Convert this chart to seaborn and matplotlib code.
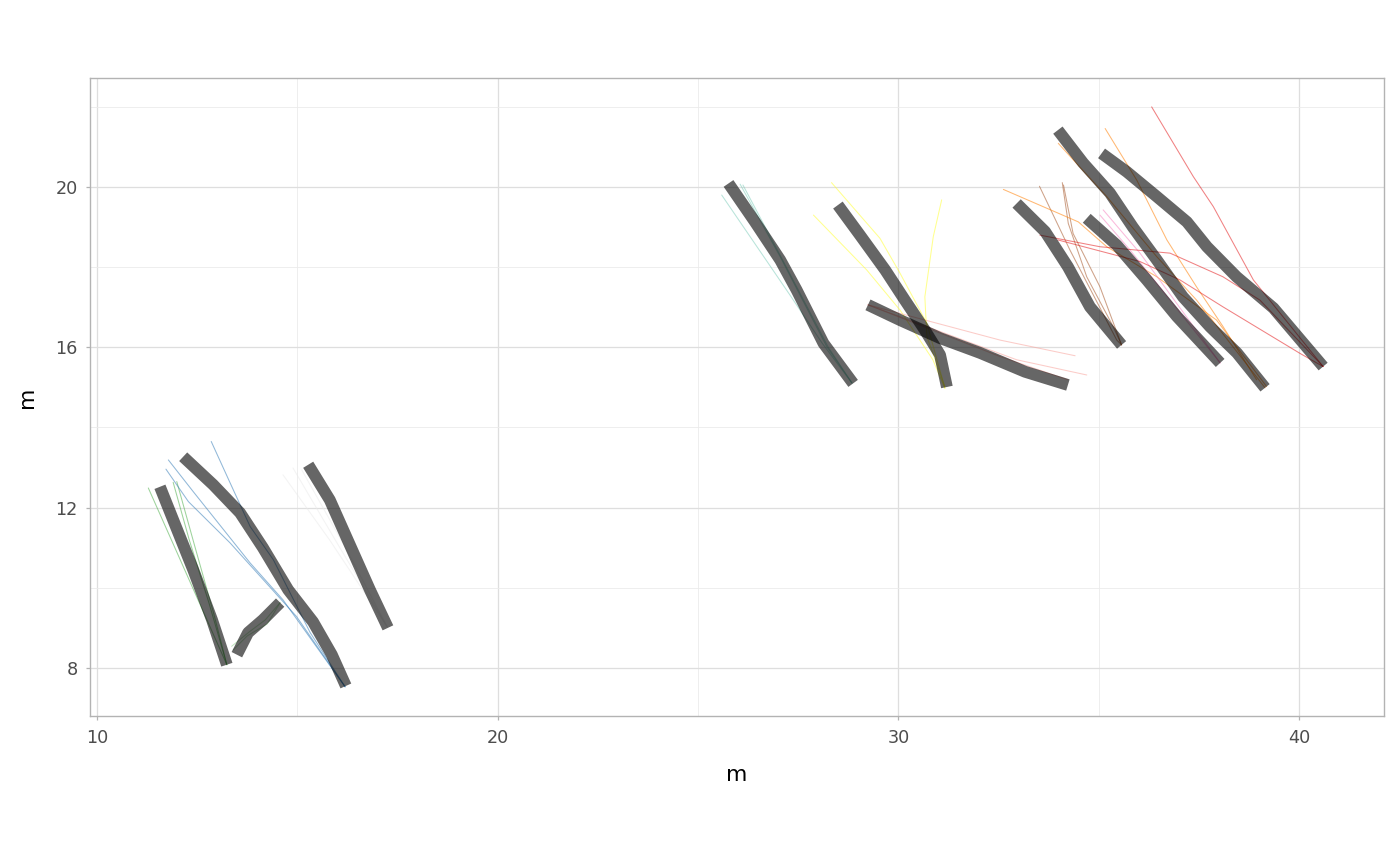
import pandas as pd
import matplotlib.pyplot as plt
import matplotlib.ticker as mticker
import seaborn as sns

# ── Thick tracks (one list per track) ────────────────────────────────────────
TRACK_X = [
    [11.57, 11.95, 12.40, 12.87, 13.24],
    [13.49, 13.77, 14.14, 14.57],
    [12.15, 12.90, 13.57, 14.14, 14.77, 15.39, 15.86, 16.21],
    [15.27, 15.81, 16.31, 16.81, 17.26],
    [25.76, 26.42, 27.05, 27.46, 28.13, 28.87],
    [28.49, 29.04, 29.67, 30.16, 30.66, 31.04, 31.21],
    [29.24, 30.04, 31.04, 32.04, 33.16, 34.23],
    [32.95, 33.66, 34.23, 34.78, 35.57],
    [33.98, 34.61, 35.28, 35.85, 36.45, 37.10, 37.78, 38.45, 39.15],
    [34.70, 35.45, 36.20, 36.95, 38.03],
    [35.07, 35.70, 36.45, 37.20, 37.70, 38.44, 39.36, 40.60],
]
TRACK_Y = [
    [12.52, 11.57, 10.45, 9.20, 8.08],
    [8.33, 8.88, 9.20, 9.63],
    [13.27, 12.57, 11.87, 11.00, 9.95, 9.15, 8.33, 7.55],
    [13.07, 12.19, 11.07, 9.95, 9.00],
    [20.09, 19.13, 18.18, 17.43, 16.10, 15.10],
    [19.55, 18.80, 17.93, 17.18, 16.43, 15.81, 15.01],
    [17.06, 16.68, 16.23, 15.86, 15.39, 15.06],
    [19.59, 18.89, 18.01, 17.01, 16.06],
    [21.42, 20.60, 19.85, 19.00, 18.18, 17.26, 16.51, 15.86, 14.99],
    [19.22, 18.55, 17.68, 16.77, 15.61],
    [20.84, 20.38, 19.76, 19.13, 18.51, 17.76, 16.98, 15.52],
]

# ── Thin candidate paths: group = index of the track they belong to ──────────
PATH_GROUP = [0, 0, 0, 1, 1, 2, 2, 2, 3, 3, 3, 4, 4, 4, 5, 5, 5,
              6, 6, 6, 7, 7, 7, 8, 8, 8, 9, 9, 10, 10, 10]
PATH_X = [
    [11.28, 13.24],
    [11.90, 12.30, 12.80, 13.24],
    [11.99, 12.45, 12.90, 13.24],
    [13.36, 13.80, 14.20, 14.57],
    [13.40, 13.75, 14.25, 14.57],
    [11.78, 12.40, 13.82, 14.64, 16.19],
    [11.72, 12.28, 13.32, 14.98, 16.19],
    [12.85, 13.32, 13.82, 14.40, 15.32, 16.19],
    [14.64, 15.80, 17.24],
    [14.89, 16.00, 17.24],
    [15.11, 16.20, 17.24],
    [25.59, 27.29, 28.10, 28.84],
    [26.05, 27.05, 28.21, 28.84],
    [26.12, 27.10, 28.25, 28.84],
    [28.33, 29.54, 30.04, 30.71, 31.16],
    [27.88, 29.21, 30.04, 30.86, 31.16],
    [31.08, 30.87, 30.66, 30.71, 31.16],
    [29.24, 32.54, 34.41],
    [29.24, 32.95, 34.70],
    [29.24, 32.54, 34.23],
    [33.52, 34.28, 35.45, 35.57],
    [34.09, 34.24, 34.70, 35.36, 35.57],
    [34.12, 34.36, 35.03, 35.57],
    [33.99, 35.20, 36.45, 37.44, 39.15],
    [35.16, 35.95, 36.70, 37.44, 38.10, 38.94],
    [32.62, 34.49, 35.20, 36.45, 37.94, 39.19],
    [35.03, 35.78, 36.78, 38.03],
    [35.11, 36.03, 38.03],
    [33.53, 35.03, 36.78, 38.10, 39.02, 40.60],
    [33.98, 36.03, 37.03, 38.10, 40.02, 40.60],
    [36.32, 37.36, 37.86, 38.86, 40.60],
]
PATH_Y = [
    [12.49, 8.08],
    [12.63, 11.20, 9.60, 8.08],
    [12.65, 11.00, 9.40, 8.08],
    [8.54, 8.90, 9.20, 9.63],
    [8.45, 8.80, 9.10, 9.63],
    [13.19, 12.40, 10.62, 9.70, 7.53],
    [12.96, 12.15, 11.12, 9.28, 7.53],
    [13.65, 12.62, 11.53, 10.70, 8.88, 7.53],
    [12.82, 11.20, 9.03],
    [12.99, 11.10, 9.03],
    [12.94, 11.00, 9.03],
    [19.80, 17.31, 16.10, 15.11],
    [20.07, 18.26, 16.02, 15.11],
    [20.05, 18.20, 16.00, 15.11],
    [20.11, 18.72, 17.85, 16.60, 14.98],
    [19.30, 17.93, 16.93, 15.69, 14.98],
    [19.68, 18.76, 17.26, 16.27, 15.02],
    [17.06, 16.18, 15.79],
    [17.06, 15.69, 15.31],
    [17.06, 15.77, 15.19],
    [20.02, 18.43, 16.18, 16.06],
    [20.11, 19.09, 17.76, 16.52, 16.06],
    [20.05, 18.84, 17.51, 16.06],
    [21.09, 19.76, 18.26, 17.18, 14.99],
    [21.46, 20.17, 18.68, 17.51, 16.52, 15.19],
    [19.94, 19.13, 18.51, 17.76, 16.68, 15.02],
    [19.30, 18.43, 17.18, 15.61],
    [19.43, 18.35, 15.61],
    [18.80, 18.51, 18.35, 17.76, 17.18, 15.52],
    [18.68, 18.14, 17.68, 17.01, 15.85, 15.52],
    [22.00, 20.26, 19.51, 17.68, 15.52],
]
GROUP_COLORS = ['#4DAF4A', '#8FD18C', '#377EB8', '#EAEAEA', '#7FCDBB',
                '#FFFF33', '#F9A29B', '#A65628', '#FF7F00', '#F781BF', '#E41A1C']

# ── Long-format tables for seaborn ───────────────────────────────────────────
tracks = pd.DataFrame(
    [(i, x, y) for i, (xs, ys) in enumerate(zip(TRACK_X, TRACK_Y))
     for x, y in zip(xs, ys)],
    columns=['track', 'x', 'y'])
paths = pd.DataFrame(
    [(j, PATH_GROUP[j], x, y) for j, (xs, ys) in enumerate(zip(PATH_X, PATH_Y))
     for x, y in zip(xs, ys)],
    columns=['path', 'group', 'x', 'y'])

# ── Theme (ggplot theme_light look) ──────────────────────────────────────────
sns.set_theme(style='white')
plt.rcParams['font.family'] = ['DejaVu Sans']

fig = plt.figure(figsize=(14, 8.66), dpi=100)
ax = fig.add_axes([0.0643, 0.1732, 0.9243, 0.7367])

sns.lineplot(data=paths, x='x', y='y', units='path', hue='group',
             palette=dict(enumerate(GROUP_COLORS)), estimator=None,
             sort=False, linewidth=0.75, alpha=0.55, legend=False, ax=ax)
sns.lineplot(data=tracks, x='x', y='y', units='track', estimator=None,
             sort=False, color='black', linewidth=8.5, alpha=0.6,
             legend=False, ax=ax)
for line in ax.get_lines()[-len(TRACK_X):]:
    line.set_solid_capstyle('butt')
    line.set_solid_joinstyle('round')

ax.set_xlim(9.825, 42.12)
ax.set_ylim(6.80, 22.72)
ax.xaxis.set_major_locator(mticker.FixedLocator([10, 20, 30, 40]))
ax.yaxis.set_major_locator(mticker.FixedLocator([8, 12, 16, 20]))
ax.xaxis.set_minor_locator(mticker.FixedLocator([15, 25, 35]))
ax.yaxis.set_minor_locator(mticker.FixedLocator([10, 14, 18, 22]))
ax.grid(which='major', color='#DEDEDE', linewidth=0.9)
ax.grid(which='minor', color='#EBEBEB', linewidth=0.6)
ax.set_axisbelow(True)
for s in ax.spines.values():
    s.set_color('#B3B3B3')
    s.set_linewidth(1.0)
ax.tick_params(axis='both', which='major', length=3, width=0.9,
               color='#B3B3B3', labelcolor='#4D4D4D', labelsize=12.7, pad=6,
               bottom=True, left=True)
ax.tick_params(axis='both', which='minor', length=0)
ax.set_xlabel('m', fontsize=15.8, color='black', labelpad=13)
ax.set_ylabel('m', fontsize=15.8, color='black', labelpad=13)

fig.savefig('out.png', dpi=100, facecolor='white')
